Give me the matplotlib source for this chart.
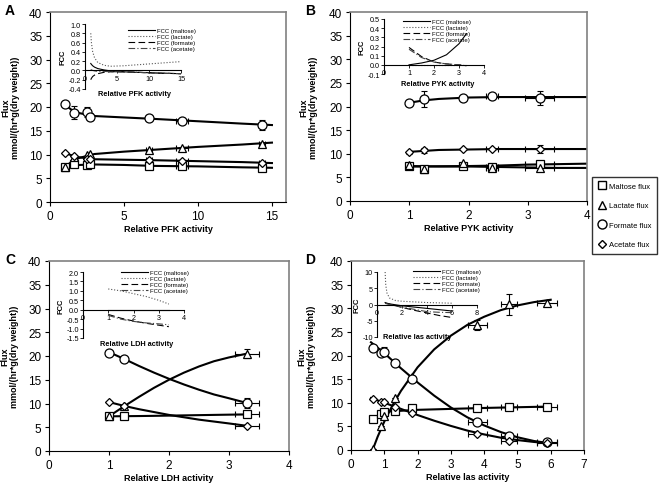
import matplotlib
matplotlib.use('Agg')
import matplotlib.pyplot as plt
import numpy as np

plt.rcParams['font.family'] = ['Liberation Sans', 'DejaVu Sans']

# ---------------- data ----------------
# panel A : PFK
A_x = [1.0, 1.6, 2.5, 2.7, 6.7, 8.9, 14.3]
A_maltose = [7.3, 7.9, 7.8, 7.9, 7.6, 7.5, 7.2]
A_lactate = [7.3, 9.4, 9.8, 10.1, 11.0, 11.4, 12.3]
A_formate = [20.7, 18.8, 18.9, 18.0, 17.6, 17.1, 16.2]
A_acetate = [10.3, 9.6, 9.1, 9.0, 8.8, 8.6, 8.2]
A_xerr = [0, 0, 0, 0, 0.2, 0.4, 0.2]
A_formate_err = [0, 1.4, 1.0, 0.7, 0.3, 0.3, 1.0]
A_fit_x = [1, 1.5, 2, 3, 5, 7, 10, 13, 15]
A_fit_maltose = [7.3, 7.6, 7.8, 7.9, 7.8, 7.6, 7.5, 7.3, 7.2]
A_fit_lactate = [7.3, 8.6, 9.3, 10.1, 10.6, 11.0, 11.6, 12.1, 12.5]
A_fit_formate = [20.5, 19.3, 18.7, 18.1, 17.8, 17.5, 17.0, 16.5, 16.2]
A_fit_acetate = [10.3, 9.8, 9.4, 9.0, 8.9, 8.8, 8.6, 8.4, 8.2]
A_fcc_x = [0.9, 1.0, 1.2, 1.5, 2, 3, 4, 6, 8, 10, 12, 15]
A_fcc_maltose = [0.15, 0.13, 0.1, 0.07, 0.04, 0.01, -0.01, -0.03, -0.04, -0.05, -0.06, -0.07]
A_fcc_lactate = [0.8, 0.6, 0.4, 0.27, 0.17, 0.11, 0.09, 0.1, 0.12, 0.14, 0.16, 0.19]
A_fcc_formate = [-0.2, -0.17, -0.13, -0.1, -0.07, -0.04, -0.03, -0.03, -0.04, -0.05, -0.06, -0.07]
A_fcc_acetate = [0.02, 0.01, 0.0, -0.01, -0.02, -0.02, -0.03, -0.03, -0.04, -0.05, -0.06, -0.07]

# panel B : PYK
B_x = [1.0, 1.25, 1.9, 2.4, 3.2]
B_maltose = [7.5, 6.8, 7.4, 7.3, 7.8]
B_lactate = [7.6, 6.7, 8.0, 7.0, 6.9]
B_formate = [20.7, 21.6, 21.7, 22.3, 21.8]
B_acetate = [10.3, 10.7, 10.9, 11.1, 11.0]
B_xerr = [0, 0, 0, 0.1, 0.25]
B_formate_err = [0.5, 1.7, 0.3, 0.3, 1.5]
B_acetate_err = [0.3, 0.6, 0.2, 0.2, 0.8]
B_fit_x = [1, 1.25, 1.5, 2, 2.5, 3, 3.5, 4]
B_fit_maltose = [7.3, 7.3, 7.35, 7.4, 7.5, 7.7, 7.8, 7.9]
B_fit_lactate = [7.4, 7.35, 7.3, 7.3, 7.2, 7.1, 7.0, 7.0]
B_fit_formate = [20.8, 21.3, 21.6, 21.9, 22.0, 22.0, 22.0, 22.0]
B_fit_acetate = [10.4, 10.6, 10.8, 10.9, 11.0, 11.0, 11.0, 11.0]
B_fcc_x = [1, 1.5, 2, 2.5, 3, 3.3]
B_fcc_maltose = [0.0, 0.02, 0.05, 0.11, 0.23, 0.34]
B_fcc_lactate = [0.0, 0.0, 0.0, 0.0, 0.0, 0.0]
B_fcc_formate = [0.19, 0.09, 0.03, 0.01, 0.0, -0.01]
B_fcc_acetate = [0.17, 0.08, 0.03, 0.01, 0.0, -0.01]

# panel C : LDH
C_x = [1.0, 1.25, 3.3]
C_maltose = [7.3, 7.3, 7.7]
C_lactate = [7.3, 9.5, 20.5]
C_formate = [20.7, 19.4, 10.1]
C_acetate = [10.3, 9.5, 5.3]
C_xerr = [0, 0, 0.2]
C_lactate_err = [0, 0, 1.0]
C_formate_err = [0, 0, 1.0]
C_fit_x = [1.0, 1.25, 1.5, 1.75, 2.0, 2.25, 2.5, 2.75, 3.0, 3.3]
C_fit_maltose = [7.3, 7.33, 7.36, 7.4, 7.45, 7.5, 7.55, 7.6, 7.65, 7.7]
C_fit_lactate = [7.3, 9.4, 11.4, 13.3, 15.0, 16.5, 17.8, 18.9, 19.7, 20.5]
C_fit_formate = [20.8, 19.4, 17.9, 16.5, 15.2, 14.0, 12.9, 11.9, 11.1, 10.1]
C_fit_acetate = [10.3, 9.5, 8.8, 8.2, 7.6, 7.1, 6.6, 6.2, 5.8, 5.3]
C_fcc_x = [1, 1.5, 2, 2.5, 3, 3.4]
C_fcc_maltose = [0.0, 0.0, 0.0, 0.0, 0.0, 0.0]
C_fcc_lactate = [1.1, 1.0, 0.85, 0.7, 0.5, 0.3]
C_fcc_formate = [-0.25, -0.45, -0.6, -0.72, -0.82, -0.9]
C_fcc_acetate = [-0.3, -0.5, -0.62, -0.7, -0.75, -0.8]

# panel D : las
D_x = [0.65, 0.9, 1.0, 1.33, 1.82, 3.8, 4.75, 5.9]
D_maltose = [6.6, 7.7, 8.0, 8.3, 8.8, 8.8, 9.1, 9.2]
D_lactate = [0.3, 5.1, 7.2, 11.0, 15.5, 26.5, 30.8, 31.2]
D_formate = [21.6, 20.6, 20.8, 18.4, 15.1, 6.0, 3.0, 1.6]
D_acetate = [10.8, 10.2, 10.2, 9.0, 7.8, 3.4, 2.0, 1.5]
D_xerr = [0, 0, 0, 0, 0, 0.3, 0.25, 0.3]
D_lactate_err = [0, 0, 0, 0, 0, 1.0, 2.2, 0.5]
D_formate_err = [0, 0, 1.0, 0, 0, 0, 0, 0]
D_fit_x = [0.6, 1.0, 1.5, 2.0, 2.5, 3.0, 3.5, 4.0, 4.5, 5.0, 5.5, 6.0]
D_fit_formate = [22.8, 20.5, 17.3, 14.3, 11.5, 9.0, 6.9, 5.2, 3.8, 2.7, 1.9, 1.4]
D_fit_acetate = [11.0, 10.0, 8.7, 7.4, 6.2, 5.1, 4.1, 3.3, 2.6, 2.1, 1.7, 1.4]
D_fit_lac_x = [0.65, 0.8, 1.0, 1.25, 1.5, 2.0, 2.5, 3.0, 3.5, 4.0, 4.5, 5.0, 5.5, 6.0]
D_fit_lactate = [0.0, 2.8, 6.0, 9.5, 12.5, 17.5, 21.3, 24.2, 26.5, 28.2, 29.6, 30.6, 31.3, 31.8]
D_fit_mal_x = [1.0, 2.0, 3.0, 4.0, 5.0, 6.0]
D_fit_maltose = [8.1, 8.5, 8.7, 8.9, 9.05, 9.2]
D_fcc_x = [0.65, 0.7, 0.8, 1.0, 1.5, 2, 3, 4, 5, 6]
D_fcc_maltose = [0.6, 0.5, 0.4, 0.2, -0.1, -0.4, -0.8, -1.2, -1.6, -2.0]
D_fcc_lactate = [10, 6, 3.5, 2, 1.2, 1.0, 0.8, 0.6, 0.5, 0.4]
D_fcc_formate = [0.5, 0.4, 0.3, 0.1, -0.4, -0.9, -1.8, -2.6, -3.4, -4.0]
D_fcc_acetate = [0.4, 0.3, 0.2, 0.0, -0.4, -0.8, -1.5, -2.2, -2.4, -2.5]

fcc_names = ['FCC (maltose)', 'FCC (lactate)', 'FCC (formate)', 'FCC (acetate)']
flux_names = ['Maltose flux', 'Lactate flux', 'Formate flux', 'Acetate flux']

fig = plt.figure(figsize=(6.64, 4.85), dpi=100)

def px(l, t, r, b):
    # pixel box -> figure fraction
    return [l / 664, 1 - b / 485, (r - l) / 664, (b - t) / 485]

mk = dict(mfc='white', mec='black', mew=0.9, ls='none', zorder=4)
eb = dict(fmt='none', ecolor='black', elinewidth=0.8, capsize=2, capthick=0.8, zorder=3)
markers = ['s', '^', 'o', 'D']
msizes = [5.5, 6, 6.5, 4.5]

def main_panel(box, letter, xmax, xticks, xlabel, ylab_px, x, series, fits, xerr, yerrs):
    ax = fig.add_axes(px(*box))
    for fx, fy in fits:
        ax.plot(fx, fy, color='black', lw=1.5, zorder=2)
    for y, m, s, ye in zip(series, markers, msizes, yerrs):
        ax.errorbar(x, y, xerr=xerr, yerr=ye, **eb)
        ax.plot(x, y, marker=m, ms=s, **mk)
    ax.set_xlim(0, xmax)
    ax.set_ylim(0, 40)
    ax.set_xticks(xticks)
    ax.set_yticks(range(0, 41, 5))
    ax.tick_params(labelsize=8.5, direction='out', length=3, width=0.8, pad=2.5)
    for s in ['top', 'right']:
        ax.spines[s].set_color('#808080')
        ax.spines[s].set_linewidth(1.2)
    ax.set_xlabel(xlabel, fontsize=6.5, fontweight='bold', labelpad=2)
    ax.set_ylabel('Flux\nmmol/(hr*g(dry weight))', fontsize=6.5, fontweight='bold',
                  linespacing=1.1)
    w = box[2] - box[0]
    ax.yaxis.set_label_coords((ylab_px - box[0]) / w, 0.5)
    lx = 5 if letter in 'AC' else 305
    fig.text(lx / 664, 1 - (box[1] - 9) / 485, letter, fontsize=10,
             fontweight='bold', va='top', ha='left')
    return ax

def inset(box, xmax, xticks, ylim, yticks, yfmt, fx, fcc, xlabel, lab_pos, leg_pos):
    ax = fig.add_axes(px(*box))
    styles = [('-', 'black'), (':', '#555555'), ((0, (6, 3)), 'black'), ((0, (6, 2, 1, 2)), '#444444')]
    for fy, (ls, c), name in zip(fcc, styles, fcc_names):
        ax.plot(fx, fy, ls=ls, color=c, lw=0.8, label=name)
    ax.set_xlim(0, xmax)
    ax.set_ylim(*ylim)
    ax.set_xticks(xticks)
    ax.set_yticks(yticks)
    ax.set_yticklabels([yfmt.format(v) for v in yticks])
    ax.spines['top'].set_visible(False)
    ax.spines['right'].set_visible(False)
    ax.spines['bottom'].set_position(('data', 0))
    ax.spines['left'].set_linewidth(0.8)
    ax.spines['bottom'].set_linewidth(0.8)
    ax.tick_params(labelsize=5.2, direction='out', length=2, width=0.6, pad=1)
    ax.patch.set_alpha(0)
    ax.set_ylabel('FCC', fontsize=5.5, fontweight='bold', labelpad=1)
    fig.text(lab_pos[0] / 664, 1 - lab_pos[1] / 485, xlabel, fontsize=5.3,
             fontweight='bold', va='center')
    ax.legend(loc='upper left', bbox_to_anchor=(leg_pos[0] / 664, 1 - leg_pos[1] / 485),
              bbox_transform=fig.transFigure, fontsize=4.3, frameon=False,
              handlelength=4.5, handletextpad=0.3, labelspacing=0.15, borderpad=0)
    return ax

axA = main_panel((50, 13, 286, 203), 'A', 15.95, [0, 5, 10, 15], 'Relative PFK activity', 20,
                 A_x, [A_maltose, A_lactate, A_formate, A_acetate],
                 [(A_fit_x, A_fit_maltose), (A_fit_x, A_fit_lactate),
                  (A_fit_x, A_fit_formate), (A_fit_x, A_fit_acetate)],
                 A_xerr, [None, None, A_formate_err, None])
axB = main_panel((350, 13, 587, 202), 'B', 4, [0, 1, 2, 3, 4], 'Relative PYK activity', 318,
                 B_x, [B_maltose, B_lactate, B_formate, B_acetate],
                 [(B_fit_x, B_fit_maltose), (B_fit_x, B_fit_lactate),
                  (B_fit_x, B_fit_formate), (B_fit_x, B_fit_acetate)],
                 B_xerr, [None, None, B_formate_err, B_acetate_err])
axC = main_panel((49, 262, 289, 452), 'C', 4, [0, 1, 2, 3, 4], 'Relative LDH activity', 19,
                 C_x, [C_maltose, C_lactate, C_formate, C_acetate],
                 [(C_fit_x, C_fit_maltose), (C_fit_x, C_fit_lactate),
                  (C_fit_x, C_fit_formate), (C_fit_x, C_fit_acetate)],
                 C_xerr, [None, C_lactate_err, C_formate_err, None])
axD = main_panel((351, 262, 584, 451), 'D', 7, range(8), 'Relative las activity', 316,
                 D_x, [D_maltose, D_lactate, D_formate, D_acetate],
                 [(D_fit_mal_x, D_fit_maltose), (D_fit_lac_x, D_fit_lactate),
                  (D_fit_x, D_fit_formate), (D_fit_x, D_fit_acetate)],
                 D_xerr, [None, D_lactate_err, D_formate_err, None])

inset((85, 25, 181, 90), 15, [0, 5, 10, 15], (-0.4, 1.0), np.arange(-0.4, 1.01, 0.2), '{:.1f}',
      A_fcc_x, [A_fcc_maltose, A_fcc_lactate, A_fcc_formate, A_fcc_acetate],
      'Relative PFK activity', (98, 95), (125, 26))
inset((384, 20, 484, 75), 4, [0, 1, 2, 3, 4], (-0.1, 0.5), np.arange(-0.1, 0.51, 0.1), '{:.1f}',
      B_fcc_x, [B_fcc_maltose, B_fcc_lactate, B_fcc_formate, B_fcc_acetate],
      'Relative PYK activity', (401, 85), (400, 17))
inset((83, 273, 184, 339), 4, [0, 1, 2, 3, 4], (-1.5, 2.0), np.arange(-1.5, 2.01, 0.5), '{:.1f}',
      C_fcc_x, [C_fcc_maltose, C_fcc_lactate, C_fcc_formate, C_fcc_acetate],
      'Relative LDH activity', (100, 344), (118, 268))
inset((377, 273, 477, 338), 8, [0, 2, 4, 6, 8], (-10, 10), [-10, -5, 0, 5, 10], '{:.0f}',
      D_fcc_x, [D_fcc_maltose, D_fcc_lactate, D_fcc_formate, D_fcc_acetate],
      'Relative las activity', (383, 338), (410, 267))

# shared legend at right
handles = [plt.Line2D([], [], marker=m, color='black', mfc='white', mec='black', ms=s, ls='none')
           for m, s in zip(markers, msizes)]
fig.legend(handles, flux_names, loc='upper left', bbox_to_anchor=(592 / 664, 1 - 178 / 485),
           fontsize=5.5, frameon=True, fancybox=False, edgecolor='black',
           labelspacing=1.6, handletextpad=0.3, borderpad=0.7, handlelength=1.2,
           borderaxespad=0)

fig.savefig('out.png', dpi=100)
